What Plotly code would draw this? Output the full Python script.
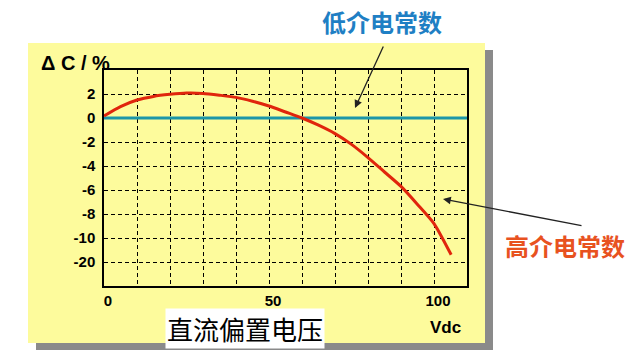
import plotly.graph_objects as go

# ---- data ----
volts = [0, 5, 10, 15, 20, 25, 30, 35, 40, 45, 50, 55, 60, 65, 70, 75, 80, 85, 90, 95, 100, 105.2]
high_k = [0.17, 0.95, 1.5, 1.8, 1.97, 2.08, 2.05, 1.9, 1.72, 1.4, 1.0, 0.5, 0.0, -0.6, -1.3,
          -2.2, -3.3, -4.5, -5.7, -7.2, -8.8, -17.0]
low_k_x = [0, 110]
low_k = [0, 0]
y_tick_values = [2, 0, -2, -4, -6, -8, -10, -20]
x_tick_values = [0, 10, 20, 30, 40, 50, 60, 70, 80, 90, 100]
x_tick_labels = ["0", "", "", "", "", "50", "", "", "", "", "100"]


def ypos(v):
    # axis is linear down to -10, then compressed (-10..-20 spans one grid step)
    return v if v >= -10 else -10 + (v + 10) / 5.0


W, H = 640, 360
L, R, T, B = 104, 467, 70, 286


def px(x):
    return (x - L) / (R - L)


def py(y):
    return (B - y) / (B - T)


YELLOW = "#fdfb9c"
fig = go.Figure()
fig.add_trace(go.Scatter(x=low_k_x, y=[ypos(v) for v in low_k], mode="lines",
                         line=dict(color="#1b96a8", width=3), hoverinfo="skip"))
fig.add_trace(go.Scatter(x=volts, y=[ypos(v) for v in high_k], mode="lines",
                         line=dict(color="#e0250c", width=3, shape="spline", smoothing=0.6),
                         hoverinfo="skip"))

fig.update_layout(
    width=W, height=H,
    margin=dict(l=L, r=W - R, t=T, b=H - B),
    paper_bgcolor="white", plot_bgcolor=YELLOW,
    showlegend=False,
    font=dict(family="Liberation Sans, Arial, sans-serif", color="black"),
    xaxis=dict(range=[0, 110], tickvals=x_tick_values, ticktext=x_tick_labels,
               showgrid=True, gridcolor="black", griddash="4px,3px", gridwidth=1,
               showline=True, linecolor="black", linewidth=1.5, mirror=True,
               zeroline=False, ticks="", ticklabelstandoff=0, ticklabelshift=4,
               tickfont=dict(size=15, family="Liberation Sans, Arial", weight="bold")),
    yaxis=dict(range=[-14, 4], tickvals=[ypos(v) for v in y_tick_values],
               ticktext=[str(v) for v in y_tick_values],
               showgrid=True, gridcolor="black", griddash="4px,3px", gridwidth=1,
               showline=True, linecolor="black", linewidth=1.5, mirror=True,
               zeroline=False, ticks="", ticklabelstandoff=4,
               tickfont=dict(size=15, family="Liberation Sans, Arial", weight="bold")),
)

# panel shadow and yellow panel
fig.add_shape(type="rect", xref="paper", yref="paper", layer="below",
              x0=px(36), x1=px(493), y0=py(350), y1=py(50),
              fillcolor="#8a8a8a", line=dict(width=0))
fig.add_shape(type="rect", xref="paper", yref="paper", layer="below",
              x0=px(28), x1=px(485), y0=py(343), y1=py(43),
              fillcolor=YELLOW, line=dict(width=0))

ann = [
    dict(text="Δ C / %", x=px(75), y=py(63), font=dict(size=20, weight="bold")),
    dict(text="Vdc", x=px(445), y=py(327), font=dict(size=17, weight="bold")),
    dict(text="直流偏置电压", x=px(245), y=py(328), bgcolor="white",
         font=dict(size=26, family="Noto Sans CJK SC")),
    dict(text="低介电常数", x=px(382), y=py(22),
         font=dict(size=24, family="Noto Sans CJK SC", weight="bold", color="#1f7fc4")),
    dict(text="高介电常数", x=px(565), y=py(245),
         font=dict(size=24, family="Noto Sans CJK SC", weight="bold", color="#e8521f")),
]
for a in ann:
    fig.add_annotation(xref="paper", yref="paper", showarrow=False,
                       xanchor="center", yanchor="middle", **a)

# arrows
fig.add_annotation(xref="paper", yref="paper", x=px(355), y=py(108), text="",
                   showarrow=True, axref="pixel", ayref="pixel", ax=29, ay=-63,
                   arrowhead=2, arrowsize=1.2, arrowwidth=1.3, arrowcolor="#222")
fig.add_annotation(xref="paper", yref="paper", x=px(443), y=py(199), text="",
                   showarrow=True, axref="pixel", ayref="pixel", ax=140, ay=27,
                   arrowhead=2, arrowsize=1.2, arrowwidth=1.3, arrowcolor="#222")

fig.write_html("out.html")
